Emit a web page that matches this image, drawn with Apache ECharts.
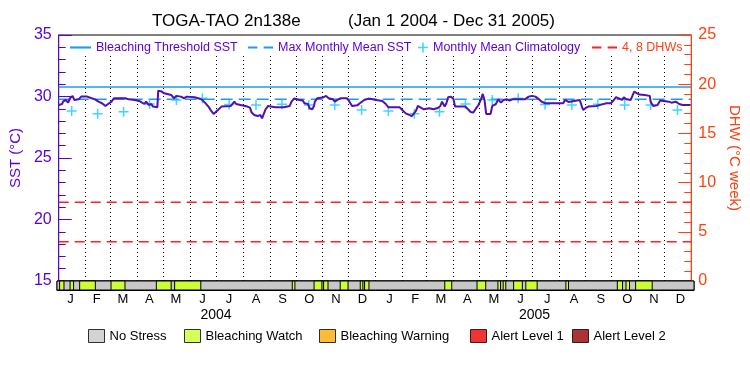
<!DOCTYPE html>
<html><head><meta charset="utf-8">
<script src="https://cdn.jsdelivr.net/npm/echarts@6/dist/echarts.min.js"></script>
<style>html,body{margin:0;padding:0;background:#fff}#c{width:750px;height:375px}</style>
</head><body><div id="c"></div>
<script>
// ---- data (day index counted from Jan 1 2004) ----
const TOTAL_DAYS = 731;
const SST_DAY = [0,2,4,5,8,11,13,16,18,23,26,33,38,42,46,50,54,57,61,64,66,71,77,81,88,94,99,101,104,107,109,114,115,119,122,130,133,136,141,143,145,148,157,161,165,169,173,176,179,181,184,188,199,203,205,207,218,221,223,226,228,230,233,235,236,239,242,
244,250,260,267,269,272,274,278,282,284,288,290,293,295,296,299,305,309,312,314,317,319,323,326,333,336,339,345,348,353,358,367,374,378,381,394,397,401,405,408,410,413,415,418,422,428,433,438,441,443,446,448,450,453,456,458,470,473,476,479,482,485,488,
490,492,494,499,501,505,508,509,511,514,518,521,524,539,543,547,551,554,558,562,583,585,587,589,591,602,604,606,609,612,621,627,633,638,641,644,646,648,651,653,656,661,663,665,667,671,677,683,684,687,692,695,705,708,713,717,721,730];
const SST_VAL = [29.31,29.23,29.39,29.58,29.72,29.50,29.86,30.05,29.72,29.77,29.99,29.99,29.86,29.77,29.58,29.45,29.23,29.39,29.58,29.86,29.94,29.86,29.86,29.77,29.72,29.61,29.39,29.58,29.31,29.39,29.18,29.12,30.48,30.40,30.26,30.13,29.86,30.05,29.99,30.05,29.86,29.99,29.94,29.86,29.77,29.50,29.18,28.85,28.58,28.69,28.90,29.18,29.23,29.58,29.39,29.23,29.18,29.09,28.69,28.50,28.58,28.41,28.50,28.22,28.41,28.96,29.23,
29.23,29.12,29.12,29.23,29.58,29.83,29.88,29.72,29.67,29.45,29.39,29.04,28.96,29.23,29.58,29.86,29.91,30.05,29.86,29.72,29.77,29.58,29.77,29.86,29.86,29.58,29.23,29.28,29.45,29.72,29.83,29.72,29.64,29.39,29.12,29.12,28.90,28.63,28.50,28.41,28.50,28.85,29.23,29.12,28.96,29.04,28.96,29.07,29.23,29.58,29.18,29.45,29.94,29.99,29.83,29.18,29.18,28.96,28.74,28.69,29.01,29.31,29.77,
30.21,29.72,28.58,28.58,29.23,29.37,29.77,29.86,29.50,29.72,29.77,29.67,29.77,29.77,29.99,30.05,29.99,29.83,29.58,29.45,29.45,29.72,29.56,29.56,29.72,29.72,29.31,28.90,29.07,29.18,29.23,29.34,29.45,29.45,29.67,29.94,30.05,29.83,29.72,29.94,29.77,29.72,29.88,30.40,30.32,30.16,30.13,30.05,29.58,29.23,29.31,29.67,29.58,29.50,29.58,29.39,29.31,29.31];
const CLIM_DAY = [15,45,75,105,136,166,197,228,258,289,319,350,381,411,440,470,501,531,562,593,623,654,684,715];
const CLIM_VAL = [28.82,28.60,28.77,29.40,29.72,29.86,29.35,29.30,29.37,29.30,29.30,28.90,28.82,28.60,28.77,29.40,29.72,29.86,29.35,29.30,29.37,29.30,29.30,28.90];
const THRESHOLD_SST = 30.78;
const MMM_SST = 29.78;
const DHW_LEVELS = [8, 4];
const MONTH_START = [0,31,60,91,121,152,182,213,244,274,305,335,366,397,425,456,486,517,547,578,609,639,670,700,731];
const MONTH_LABELS = ['J','F','M','A','M','J','J','A','S','O','N','D','J','F','M','A','M','J','J','A','S','O','N','D'];
const YEAR_LABELS = ['2004','2005'];
const YEAR_CENTER = [182.5,548];
// alert status segments: [start day, end day, level]
const ALERT_START = [0,3,15,26,62,114,135,270,295,306,325,348,353,445,482,506,512,524,538,584,643,653,664];
const ALERT_END   = [731,8,19,44,78,131,165,273,304,311,334,351,358,453,492,509,515,534,551,587,649,657,683];
const ALERT_LEVEL = [0,1,1,1,1,1,1,1,1,1,1,1,1,1,1,1,1,1,1,1,1,1,1];
const ALERT_NAMES = ['No Stress','Bleaching Watch','Bleaching Warning','Alert Level 1','Alert Level 2'];
const ALERT_COLORS = ['#c8c8c8','#ccff33','#ffaa00','#ee0000','#960000'];

// ---- styles ----
const FONT = 'Liberation Sans';
const PURPLE = '#5a00d2';
const LINE_PURPLE = '#5010b4';
const BLUE = '#1a9cf0';
const CYAN = '#10c8ff';
const RED = '#ff2020';
const ORANGE = '#ff4010';
const PLUS = 'path://M4.25,0h1.5v10h-1.5zM0,4.25h10v1.5h-10z';
const MID = MONTH_START.slice(0,24).map((d,i)=>(d+MONTH_START[i+1])/2);
const DOT_TOP = 33.4;

const chart = echarts.init(document.getElementById('c'), null, {renderer:'canvas'});

const topLegend = (left, name, icon, w, iconColor, textColor) => ({
  left, top: 41, padding: 0, itemWidth: w, itemHeight: 14, selectedMode: false,
  textStyle: {fontFamily: FONT, fontSize: 12.5, color: textColor},
  data: [{name, icon, itemStyle: {color: iconColor, borderWidth: 0}, lineStyle:{width:0}, textStyle:{color:textColor}}]
});
const botLegend = (left, i) => ({
  left, top: 329, padding: 0, itemWidth: 16, itemHeight: 13, selectedMode: false,
  textStyle: {fontFamily: FONT, fontSize: 13, color: '#000'},
  data: [{name: ALERT_NAMES[i], icon: 'rect', itemStyle: {color: ALERT_COLORS[i], borderColor: '#000', borderWidth: 1}}]
});

const option = {
  animation: false,
  textStyle: {fontFamily: FONT},
  title: [
    {text: 'TOGA-TAO 2n138e', left: 152, top: 13, padding: 0, textStyle: {fontFamily: FONT, fontSize: 17, fontWeight: 'normal', color: '#000'}},
    {text: '(Jan 1 2004 - Dec 31 2005)', left: 348, top: 13, padding: 0, textStyle: {fontFamily: FONT, fontSize: 17, fontWeight: 'normal', color: '#000'}}
  ],
  legend: [
    topLegend(70, 'Bleaching Threshold SST', 'path://M0,0h20v2h-20z', 21, BLUE, PURPLE),
    topLegend(248, 'Max Monthly Mean SST', 'path://M0,0h9v2h-9zM15,0h9v2h-9z', 25, BLUE, PURPLE),
    topLegend(418, 'Monthly Mean Climatology', PLUS, 10, CYAN, PURPLE),
    topLegend(592, '4, 8 DHWs', 'path://M0,0h9v2h-9zM15,0h9v2h-9z', 25, RED, ORANGE),
    botLegend(88, 0), botLegend(184, 1), botLegend(319, 2), botLegend(470, 3), botLegend(572, 4)
  ],
  grid: [
    {left: 57, right: 56, top: 35, height: 246, show: true, borderColor: '#000', borderWidth: 1, backgroundColor: 'transparent'},
    {left: 57, right: 56, top: 281, height: 9, show: true, borderColor: '#000', borderWidth: 1, backgroundColor: 'transparent'}
  ],
  xAxis: [
    {gridIndex: 0, type: 'value', min: 0, max: TOTAL_DAYS, show: false},
    {gridIndex: 1, type: 'value', min: 0, max: TOTAL_DAYS, position: 'bottom',
      axisLine: {show: true, lineStyle: {color: '#000'}}, axisTick: {show: false}, splitLine: {show: false},
      axisLabel: {customValues: MID, formatter: v => MONTH_LABELS[MID.indexOf(v)], margin: 3, fontSize: 13, color: '#000', fontFamily: FONT}},
    {gridIndex: 1, type: 'value', min: 0, max: TOTAL_DAYS, position: 'bottom',
      axisLine: {show: false}, axisTick: {show: false}, splitLine: {show: false},
      axisLabel: {customValues: YEAR_CENTER, formatter: v => YEAR_LABELS[YEAR_CENTER.indexOf(v)], margin: 18, fontSize: 14, color: '#000', fontFamily: FONT}}
  ],
  yAxis: [
    {gridIndex: 0, type: 'value', min: 15, max: 35, interval: 5, position: 'left',
      axisLine: {show: true, lineStyle: {color: PURPLE}},
      axisTick: {show: true, inside: true, length: 13, lineStyle: {color: PURPLE}},
      minorTick: {show: true, splitNumber: 5, length: 7, lineStyle: {color: PURPLE}},
      splitLine: {show: false},
      axisLabel: {color: PURPLE, fontSize: 16, margin: 7, fontFamily: FONT},
      name: 'SST (°C)', nameLocation: 'middle', nameGap: 32, nameRotate: 90,
      nameTextStyle: {color: PURPLE, fontSize: 15, fontFamily: FONT}},
    {gridIndex: 0, type: 'value', min: 0, max: 25, interval: 5, position: 'right',
      axisLine: {show: true, lineStyle: {color: ORANGE}},
      axisTick: {show: true, inside: true, length: 13, lineStyle: {color: ORANGE}},
      minorTick: {show: true, splitNumber: 5, length: 7, lineStyle: {color: ORANGE}},
      splitLine: {show: false},
      axisLabel: {color: ORANGE, fontSize: 16, margin: 7, fontFamily: FONT},
      name: 'DHW (°C week)', nameLocation: 'middle', nameGap: 32, nameRotate: -90,
      nameTextStyle: {color: ORANGE, fontSize: 15, fontFamily: FONT}},
    {gridIndex: 1, type: 'value', min: 0, max: 1, position: 'left',
      axisLine: {show: true, lineStyle: {color: PURPLE}}, axisTick: {show: false}, axisLabel: {show: false}, splitLine: {show: false}},
    {gridIndex: 1, type: 'value', min: 0, max: 1, position: 'right',
      axisLine: {show: true, lineStyle: {color: ORANGE}}, axisTick: {show: false}, axisLabel: {show: false}, splitLine: {show: false}}
  ],
  series: [
    {name: 'Bleaching Threshold SST', type: 'line', xAxisIndex: 0, yAxisIndex: 0,
      data: [[0, THRESHOLD_SST], [TOTAL_DAYS, THRESHOLD_SST]], showSymbol: false, color: BLUE,
      lineStyle: {color: BLUE, width: 1.5}, z: 3,
      markLine: {silent: true, symbol: ['none', 'none'], label: {show: false},
        lineStyle: {type: [1, 3], color: '#000', width: 1},
        data: MONTH_START.slice(1, 24).map(d => [{coord: [d, 15]}, {coord: [d, DOT_TOP]}])}},
    {name: 'Max Monthly Mean SST', type: 'line', xAxisIndex: 0, yAxisIndex: 0,
      data: [[0, MMM_SST], [TOTAL_DAYS, MMM_SST]], showSymbol: false, color: BLUE,
      lineStyle: {color: BLUE, width: 1.5, type: [12, 6]}, z: 3},
    {name: 'Monthly Mean Climatology', type: 'scatter', xAxisIndex: 0, yAxisIndex: 0,
      data: CLIM_DAY.map((d, i) => [d, CLIM_VAL[i]]), symbol: PLUS, symbolSize: 10,
      itemStyle: {color: CYAN}, z: 4},
    {name: '4, 8 DHWs', type: 'line', xAxisIndex: 0, yAxisIndex: 1,
      data: [[0, DHW_LEVELS[0]], [TOTAL_DAYS, DHW_LEVELS[0]]], showSymbol: false, color: RED,
      lineStyle: {color: RED, width: 1.5, type: [10, 6]}},
    {name: '4, 8 DHWs', type: 'line', xAxisIndex: 0, yAxisIndex: 1,
      data: [[0, DHW_LEVELS[1]], [TOTAL_DAYS, DHW_LEVELS[1]]], showSymbol: false, color: RED,
      lineStyle: {color: RED, width: 1.5, type: [10, 6]}},
    {name: 'SST', type: 'line', xAxisIndex: 0, yAxisIndex: 0,
      data: SST_DAY.map((d, i) => [d, SST_VAL[i]]), showSymbol: false, color: LINE_PURPLE,
      lineStyle: {color: LINE_PURPLE, width: 2}, z: 5},
    {name: 'status', type: 'custom', xAxisIndex: 1, yAxisIndex: 2,
      data: ALERT_START.map((s, i) => [s, ALERT_END[i], ALERT_LEVEL[i]]),
      encode: {x: [0, 1]},
      renderItem: (params, api) => {
        const s = api.value(0), e = api.value(1), lv = api.value(2);
        const p0 = api.coord([s, 1]), p1 = api.coord([e, 0]);
        return {type: 'rect', shape: {x: p0[0], y: p0[1], width: p1[0] - p0[0], height: p1[1] - p0[1]},
          style: {fill: ALERT_COLORS[lv], stroke: '#000', lineWidth: 1}};
      }},
    ...ALERT_NAMES.map((n, i) => ({name: n, type: 'scatter', xAxisIndex: 1, yAxisIndex: 2, data: [], itemStyle: {color: ALERT_COLORS[i]}}))
  ]
};
chart.setOption(option);
</script></body></html>
